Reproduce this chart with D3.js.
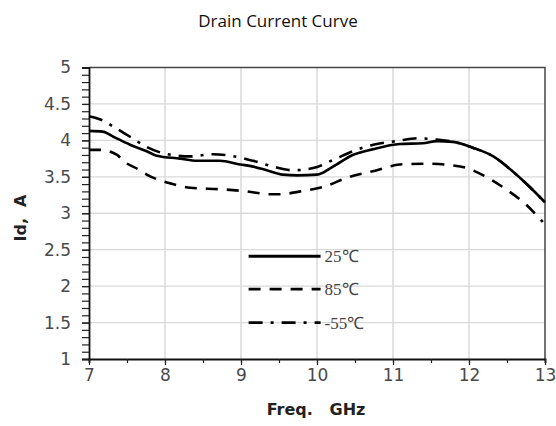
<!DOCTYPE html>
<html>
<head>
<meta charset="utf-8">
<script src="https://cdn.jsdelivr.net/npm/d3@7"></script>
<style>
  body { margin: 0; background: #fff; }
  svg text { white-space: pre; }
</style>
</head>
<body>
<div id="chart"></div>
<script>
// data
var freq25 = [7.0, 7.18, 7.32, 7.54, 7.76, 7.89, 8.2, 8.42, 8.72, 8.99, 9.16, 9.34, 9.55, 9.74, 10.0, 10.21, 10.47, 10.74, 11.09, 11.39, 11.58, 11.79, 12.05, 12.32, 12.58, 12.8, 13.0];
var id25 = [4.13, 4.12, 4.05, 3.94, 3.85, 3.79, 3.75, 3.72, 3.72, 3.67, 3.64, 3.59, 3.53, 3.52, 3.53, 3.64, 3.8, 3.88, 3.95, 3.96, 3.99, 3.98, 3.9, 3.78, 3.57, 3.36, 3.15];

var freq85 = [7.0, 7.14, 7.37, 7.45, 7.67, 7.76, 7.97, 8.07, 8.33, 8.72, 9.08, 9.38, 9.51, 9.78, 10.08, 10.43, 10.79, 11.09, 11.45, 11.75, 11.97, 12.24, 12.5, 12.76, 12.97];
var id85 = [3.87, 3.87, 3.8, 3.72, 3.59, 3.53, 3.44, 3.41, 3.35, 3.33, 3.3, 3.26, 3.26, 3.3, 3.36, 3.5, 3.59, 3.67, 3.68, 3.66, 3.62, 3.49, 3.32, 3.11, 2.88];

var freqM55 = [7.0, 7.14, 7.32, 7.54, 7.76, 8.03, 8.33, 8.63, 8.86, 9.16, 9.42, 9.68, 9.95, 10.21, 10.47, 10.74, 11.05, 11.32, 11.58, 11.79, 12.05, 12.32, 12.58, 12.8, 13.0];
var idM55 = [4.33, 4.29, 4.19, 4.05, 3.91, 3.81, 3.78, 3.81, 3.79, 3.72, 3.64, 3.59, 3.62, 3.73, 3.85, 3.94, 3.99, 4.03, 4.01, 3.98, 3.9, 3.78, 3.57, 3.36, 3.15];

var xTicks = [7, 8, 9, 10, 11, 12, 13];
var yTicks = [1, 1.5, 2, 2.5, 3, 3.5, 4, 4.5, 5];
var legendLabels = ["25\u2103", "85\u2103", "-55\u2103"];

var series = [
    { label: legendLabels[0], x: freq25, y: id25, dash: null },
    { label: legendLabels[1], x: freq85, y: id85, dash: "12,9" },
    { label: legendLabels[2], x: freqM55, y: idM55, dash: "14,8,3,8" }
];

// set the dimensions and margins of the graph
var W = 556, H = 426;
var margin = { top: 67.5, right: 11, bottom: 67, left: 89 },
    width = W - margin.left - margin.right,
    height = H - margin.top - margin.bottom;

var svg = d3.select("#chart")
    .append("svg")
    .attr("width", W)
    .attr("height", H);

svg.append("text")
    .attr("x", 278)
    .attr("y", 27)
    .attr("text-anchor", "middle")
    .style("font-family", "'Open Sans', sans-serif")
    .style("font-size", "17px")
    .style("fill", "#111")
    .text("Drain Current Curve");

var g = svg.append("g")
    .attr("transform", "translate(" + margin.left + "," + margin.top + ")");

var x = d3.scaleLinear().domain([7, 13]).range([0, width]);
var y = d3.scaleLinear().domain([1, 5]).range([height, 0]);

// grid
g.append("g").selectAll("line.vg")
    .data(xTicks.slice(1, -1))
    .enter().append("line")
    .attr("x1", function(d) { return x(d); })
    .attr("x2", function(d) { return x(d); })
    .attr("y1", 0).attr("y2", height)
    .style("stroke", "#d4d4d4").style("stroke-width", 1.3);
g.append("g").selectAll("line.hg")
    .data(yTicks.slice(1, -1))
    .enter().append("line")
    .attr("y1", function(d) { return y(d); })
    .attr("y2", function(d) { return y(d); })
    .attr("x1", 0).attr("x2", width)
    .style("stroke", "#d9d9d9").style("stroke-width", 1.3);

// frame top and right
g.append("path")
    .attr("d", "M0,0H" + width + "V" + height)
    .style("fill", "none").style("stroke", "#444").style("stroke-width", 1.5);

// Y axis minor ticks
var yMinor = d3.range(10, 51).map(function(d) { return d / 10; });
g.append("g")
    .call(d3.axisLeft(y).tickValues(yMinor).tickSize(7).tickFormat(""))
    .call(function(a) {
        a.select(".domain").style("stroke", "#111").style("stroke-width", 1.8);
        a.selectAll(".tick line").style("stroke", "#222").style("stroke-width", 1.2);
    });

// Y axis labels
g.append("g")
    .call(d3.axisLeft(y).tickValues(yTicks).tickSize(7).tickPadding(11).tickFormat(d3.format("")))
    .call(function(a) {
        a.select(".domain").remove();
        a.selectAll(".tick line").style("stroke", "#222").style("stroke-width", 1.2);
        a.selectAll("text")
            .style("font-family", "'DejaVu Sans', sans-serif")
            .style("font-size", "17px")
            .style("fill", "#4a4a4a");
    });

// X axis
var xMinor = d3.range(14, 27).map(function(d) { return d / 2; });
g.append("g")
    .attr("transform", "translate(0," + height + ")")
    .call(d3.axisBottom(x).tickValues(xMinor).tickSize(4).tickFormat(""))
    .call(function(a) {
        a.select(".domain").style("stroke", "#111").style("stroke-width", 1.8);
        a.selectAll(".tick line").style("stroke", "#222").style("stroke-width", 1.2);
    });
g.append("g")
    .attr("transform", "translate(0," + height + ")")
    .call(d3.axisBottom(x).tickValues(xTicks).tickSize(6).tickPadding(4).tickFormat(d3.format("")))
    .call(function(a) {
        a.select(".domain").remove();
        a.selectAll(".tick line").style("stroke", "#222").style("stroke-width", 1.2);
        a.selectAll("text")
            .style("font-family", "'DejaVu Sans', sans-serif")
            .style("font-size", "17px")
            .style("fill", "#4a4a4a");
    });

// axis titles
svg.append("text")
    .attr("x", 316)
    .attr("y", 415)
    .attr("text-anchor", "middle")
    .style("font-family", "'DejaVu Sans', sans-serif")
    .style("font-weight", "bold")
    .style("font-size", "16px")
    .style("fill", "#222")
    .text("Freq.   GHz");

svg.append("text")
    .attr("transform", "translate(26,218) rotate(-90)")
    .attr("text-anchor", "middle")
    .style("font-family", "'DejaVu Sans', sans-serif")
    .style("font-weight", "bold")
    .style("font-size", "16px")
    .style("fill", "#222")
    .text("Id,  A");

// curves
var line = d3.line()
    .curve(d3.curveMonotoneX)
    .x(function(d) { return x(d[0]); })
    .y(function(d) { return y(d[1]); });

g.selectAll("path.curve")
    .data(series)
    .enter().append("path")
    .attr("class", "curve")
    .attr("d", function(s) { return line(d3.zip(s.x, s.y)); })
    .style("fill", "none")
    .style("stroke", "#000")
    .style("stroke-width", 2.6)
    .style("stroke-dasharray", function(s) { return s.dash; });

// legend
var legY = [2.41, 1.96, 1.5];
var leg = g.selectAll("g.leg")
    .data(series)
    .enter().append("g")
    .attr("class", "leg")
    .attr("transform", function(s, i) { return "translate(" + x(9.1) + "," + y(legY[i]) + ")"; });
leg.append("line")
    .attr("x1", 0).attr("x2", 72)
    .style("stroke", "#000")
    .style("stroke-width", 2.8)
    .style("stroke-dasharray", function(s) { return s.dash; });
leg.append("text")
    .attr("x", 76)
    .attr("y", 6)
    .style("font-family", "'Liberation Serif', serif")
    .style("font-size", "17px")
    .style("fill", "#444")
    .text(function(s) { return s.label; });
</script>
</body>
</html>
